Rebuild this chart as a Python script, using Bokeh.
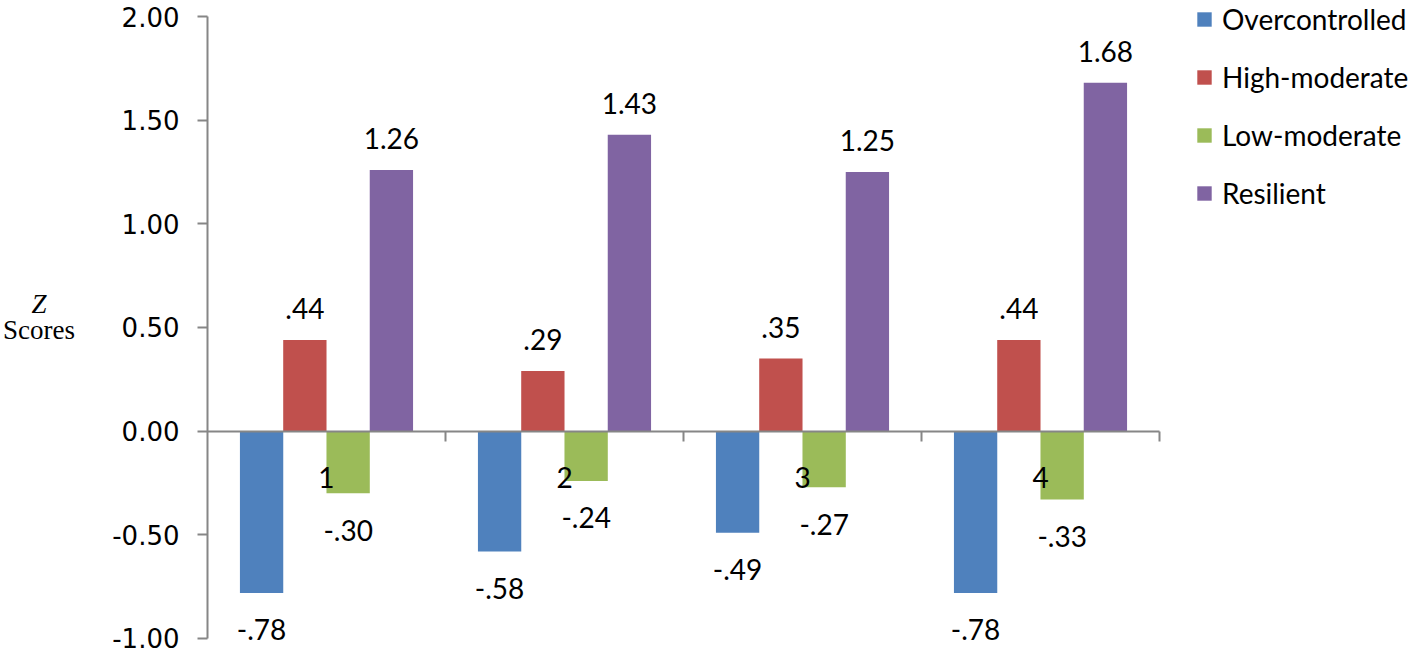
from bokeh.plotting import figure
from bokeh.models import (ColumnDataSource, Range1d, FixedTicker, NumeralTickFormatter,
                          Legend, LegendItem, Label)
from bokeh.transform import dodge
from bokeh.core.properties import value
from bokeh.embed import file_html
from bokeh.resources import INLINE

# ---- data ----
groups = ["1", "2", "3", "4"]
series = ["Overcontrolled", "High-moderate", "Low-moderate", "Resilient"]
overcontrolled = [-0.78, -0.58, -0.49, -0.78]
high_moderate = [0.44, 0.29, 0.35, 0.44]
low_moderate = [-0.30, -0.24, -0.27, -0.33]
resilient = [1.26, 1.43, 1.25, 1.68]
y_ticks = [-1.0, -0.5, 0.0, 0.5, 1.0, 1.5, 2.0]

colors = ["#4F81BD", "#C0504D", "#9BBB59", "#8064A2"]
values_by_series = [overcontrolled, high_moderate, low_moderate, resilient]
offsets = [-0.2727, -0.0909, 0.0909, 0.2727]
bar_w = 0.182
up_gap = 0.150   # label centre above positive bar (data units)
down_gap = 0.178  # label centre below negative bar


def fmt(v):
    s = f"{v:.2f}"
    if s.startswith("0."):
        s = s[1:]
    elif s.startswith("-0."):
        s = "-" + s[2:]
    return s


W, H = 1421, 658
# the frame covers the whole canvas; axes are placed at fixed locations
x0, x1 = -0.3697, 5.6008
y0, y1 = -1.0965, 2.0772
p = figure(width=W, height=H, x_range=Range1d(x0, x1), y_range=Range1d(y0, y1),
           output_backend="svg", toolbar_location=None,
           min_border_left=0, min_border_right=0, min_border_top=0, min_border_bottom=0)
p.outline_line_color = None
p.xgrid.visible = False
p.ygrid.visible = False
p.background_fill_color = "white"
p.border_fill_color = "white"

gx = [i + 1 for i in range(len(groups))]
items = []
for name, vals, col, off in zip(series, values_by_series, colors, offsets):
    src = ColumnDataSource(dict(
        x=gx, top=vals,
        ly=[v + up_gap if v >= 0 else v - down_gap for v in vals],
        lbl=[fmt(v) for v in vals]))
    r = p.vbar(x=dodge("x", off), top="top", bottom=0, width=bar_w, source=src,
               fill_color=col, line_color=None)
    p.text(x=dodge("x", off), y="ly", text="lbl", source=src,
           text_font=value("Lato"), text_font_size="28px", text_color="black",
           text_align="center", text_baseline="middle")
    items.append(LegendItem(label=name, renderers=[r]))

axis_col = "#868686"
# y axis
ya = p.yaxis[0]
ya.fixed_location = 0.5
ya.bounds = (-1, 2)
ya.ticker = FixedTicker(ticks=y_ticks, minor_ticks=[])
ya.formatter = NumeralTickFormatter(format="0.00")
ya.axis_line_color = axis_col
ya.axis_line_width = 2
ya.major_tick_line_color = axis_col
ya.major_tick_line_width = 2
ya.major_tick_out = 10
ya.major_tick_in = 0
ya.minor_tick_line_color = None
ya.major_label_standoff = 18
ya.major_label_text_font = "DejaVu Sans"
ya.major_label_text_font_size = "26px"
ya.major_label_text_color = "black"

# x axis on the zero line
xa = p.xaxis[0]
xa.fixed_location = 0
xa.bounds = (0.5, 4.5)
xa.ticker = FixedTicker(ticks=gx, minor_ticks=[g + 0.5 for g in gx])
xa.major_label_overrides = {g: lab for g, lab in zip(gx, groups)}
xa.axis_line_color = axis_col
xa.axis_line_width = 2
xa.major_tick_line_color = None
xa.major_tick_out = 0
xa.major_tick_in = 0
xa.minor_tick_line_color = axis_col
xa.minor_tick_line_width = 2
xa.minor_tick_out = 10
xa.minor_tick_in = 0
xa.major_label_standoff = 26
xa.major_label_text_font = "Lato"
xa.major_label_text_font_size = "28px"
xa.major_label_text_color = "black"

# y axis title "Z Scores"
p.add_layout(Label(x=-0.2079, y=0.611, text="Z", text_font="Liberation Serif",
                   text_font_style="italic", text_font_size="27px",
                   text_align="center", text_baseline="middle", text_color="black"))
p.add_layout(Label(x=-0.2079, y=0.490, text="Scores", text_font="Liberation Serif",
                   text_font_size="27px", text_align="center", text_baseline="middle",
                   text_color="black"))

legend = Legend(items=items, location=(1195, 448), padding=0, margin=0, spacing=24,
                glyph_width=18, glyph_height=18, label_standoff=9, label_height=28,
                label_text_font="Lato", label_text_font_size="28px",
                label_text_color="black", border_line_color=None,
                background_fill_alpha=0)
p.add_layout(legend)

open("out.html", "w").write(file_html(p, INLINE))
